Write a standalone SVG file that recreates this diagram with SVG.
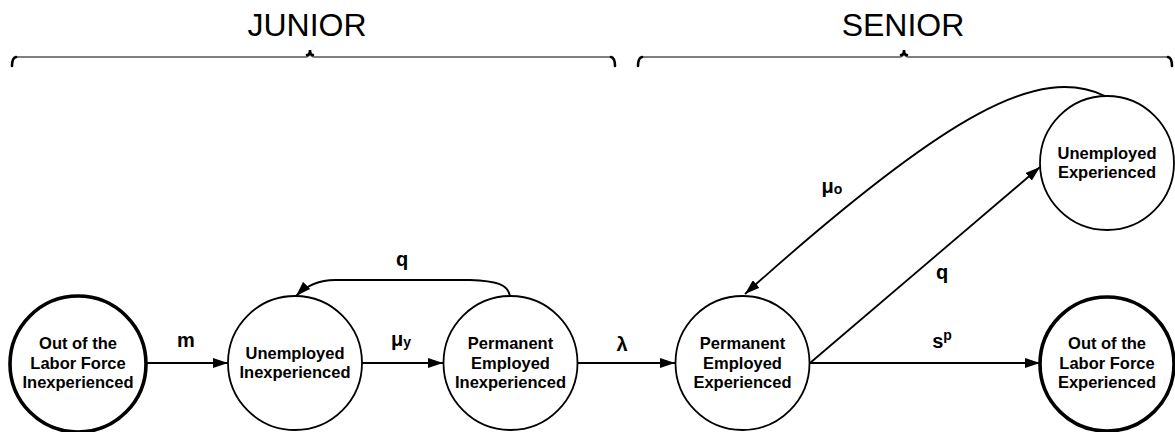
<svg xmlns="http://www.w3.org/2000/svg" width="1175" height="432" viewBox="0 0 1175 432">
<style>
.node{fill:#fff;stroke:#000;stroke-width:1.8}
.thick{stroke-width:3.6}
.nt{font-family:"Liberation Sans",Arial,sans-serif;font-weight:bold;font-size:16.5px;text-anchor:middle;fill:#000}
.lbl{font-family:"Liberation Sans",Arial,sans-serif;font-weight:bold;font-size:20px;text-anchor:middle;fill:#000}
.sub{font-size:14px}
.title{font-family:"Liberation Sans",Arial,sans-serif;font-size:32px;text-anchor:middle;fill:#000}
.edge{fill:none;stroke:#000;stroke-width:1.8}
.brace{fill:none;stroke:#555;stroke-width:1.6}
.curl{fill:none;stroke:#000;stroke-width:2.6;stroke-linecap:round}
</style>
<defs>
<marker id="arr" markerWidth="15" markerHeight="10" refX="15" refY="5" orient="auto" markerUnits="userSpaceOnUse">
<path d="M0,0 L15,5 L0,10 z" fill="#000"/>
</marker>
</defs>
<g id="braces">
<text class="title" x="307" y="36">JUNIOR</text>
<path class="brace" d="M16,57 L306,57 Q310,57 310,50 Q310,57 314,57 L611,57"/>
<path class="curl" d="M16,57 Q12,58 12,66 M611,57 Q615,58 615,66 M307,55 Q310,55 310,50 Q310,55 313,55"/>
<text class="title" x="903" y="36">SENIOR</text>
<path class="brace" d="M642,57 L900,57 Q904,57 904,50 Q904,57 908,57 L1168,57"/>
<path class="curl" d="M642,57 Q638,58 638,66 M1168,57 Q1172,58 1172,66 M901,55 Q904,55 904,50 Q904,55 907,55"/>
</g>
<g id="connectors">
<line class="edge" x1="147" y1="363" x2="228" y2="363" marker-end="url(#arr)"/>
<line class="edge" x1="362" y1="363" x2="443" y2="363" marker-end="url(#arr)"/>
<line class="edge" x1="578" y1="363" x2="675" y2="363" marker-end="url(#arr)"/>
<path class="edge" d="M510,296 C508,284 496,281 470,280 L335,280 C318,280 305,287 296,296" marker-end="url(#arr)"/>
<line class="edge" x1="810" y1="363" x2="1040" y2="167" marker-end="url(#arr)"/>
<line class="edge" x1="810" y1="363" x2="1040" y2="363" marker-end="url(#arr)"/>
<path class="edge" d="M1105,96 C1040,65 950,110 745,294" marker-end="url(#arr)"/>
<text class="lbl" x="186" y="347">m</text>
<text class="lbl" x="401" y="346">μ<tspan class="sub" dy="1">y</tspan></text>
<text class="lbl" x="622" y="351">λ</text>
<text class="lbl" x="402" y="266">q</text>
<text class="lbl" x="942" y="348">s<tspan class="sub" dy="-8">p</tspan></text>
<text class="lbl" x="942" y="279">q</text>
<text class="lbl" x="832" y="193">μ<tspan class="sub" dy="1">o</tspan></text>
</g>
<g id="n1">
<circle class="node thick" cx="78" cy="364" r="68"/>
<text class="nt" x="78" y="349">Out of the</text>
<text class="nt" x="78" y="369">Labor Force</text>
<text class="nt" x="78" y="388">Inexperienced</text>
</g>
<g id="n2">
<circle class="node" cx="295" cy="363" r="67"/>
<text class="nt" x="295" y="359">Unemployed</text>
<text class="nt" x="295" y="378">Inexperienced</text>
</g>
<g id="n3">
<circle class="node" cx="510.5" cy="363" r="67"/>
<text class="nt" x="510.5" y="349">Permanent</text>
<text class="nt" x="510.5" y="369">Employed</text>
<text class="nt" x="510.5" y="388">Inexperienced</text>
</g>
<g id="n4">
<circle class="node" cx="742.5" cy="363" r="67"/>
<text class="nt" x="742.5" y="349">Permanent</text>
<text class="nt" x="742.5" y="369">Employed</text>
<text class="nt" x="742.5" y="388">Experienced</text>
</g>
<g id="n5">
<circle class="node" cx="1107" cy="163" r="67"/>
<text class="nt" x="1107" y="159">Unemployed</text>
<text class="nt" x="1107" y="178">Experienced</text>
</g>
<g id="n6">
<circle class="node thick" cx="1107" cy="364" r="67"/>
<text class="nt" x="1107" y="349">Out of the</text>
<text class="nt" x="1107" y="369">Labor Force</text>
<text class="nt" x="1107" y="388">Experienced</text>
</g>
</svg>
